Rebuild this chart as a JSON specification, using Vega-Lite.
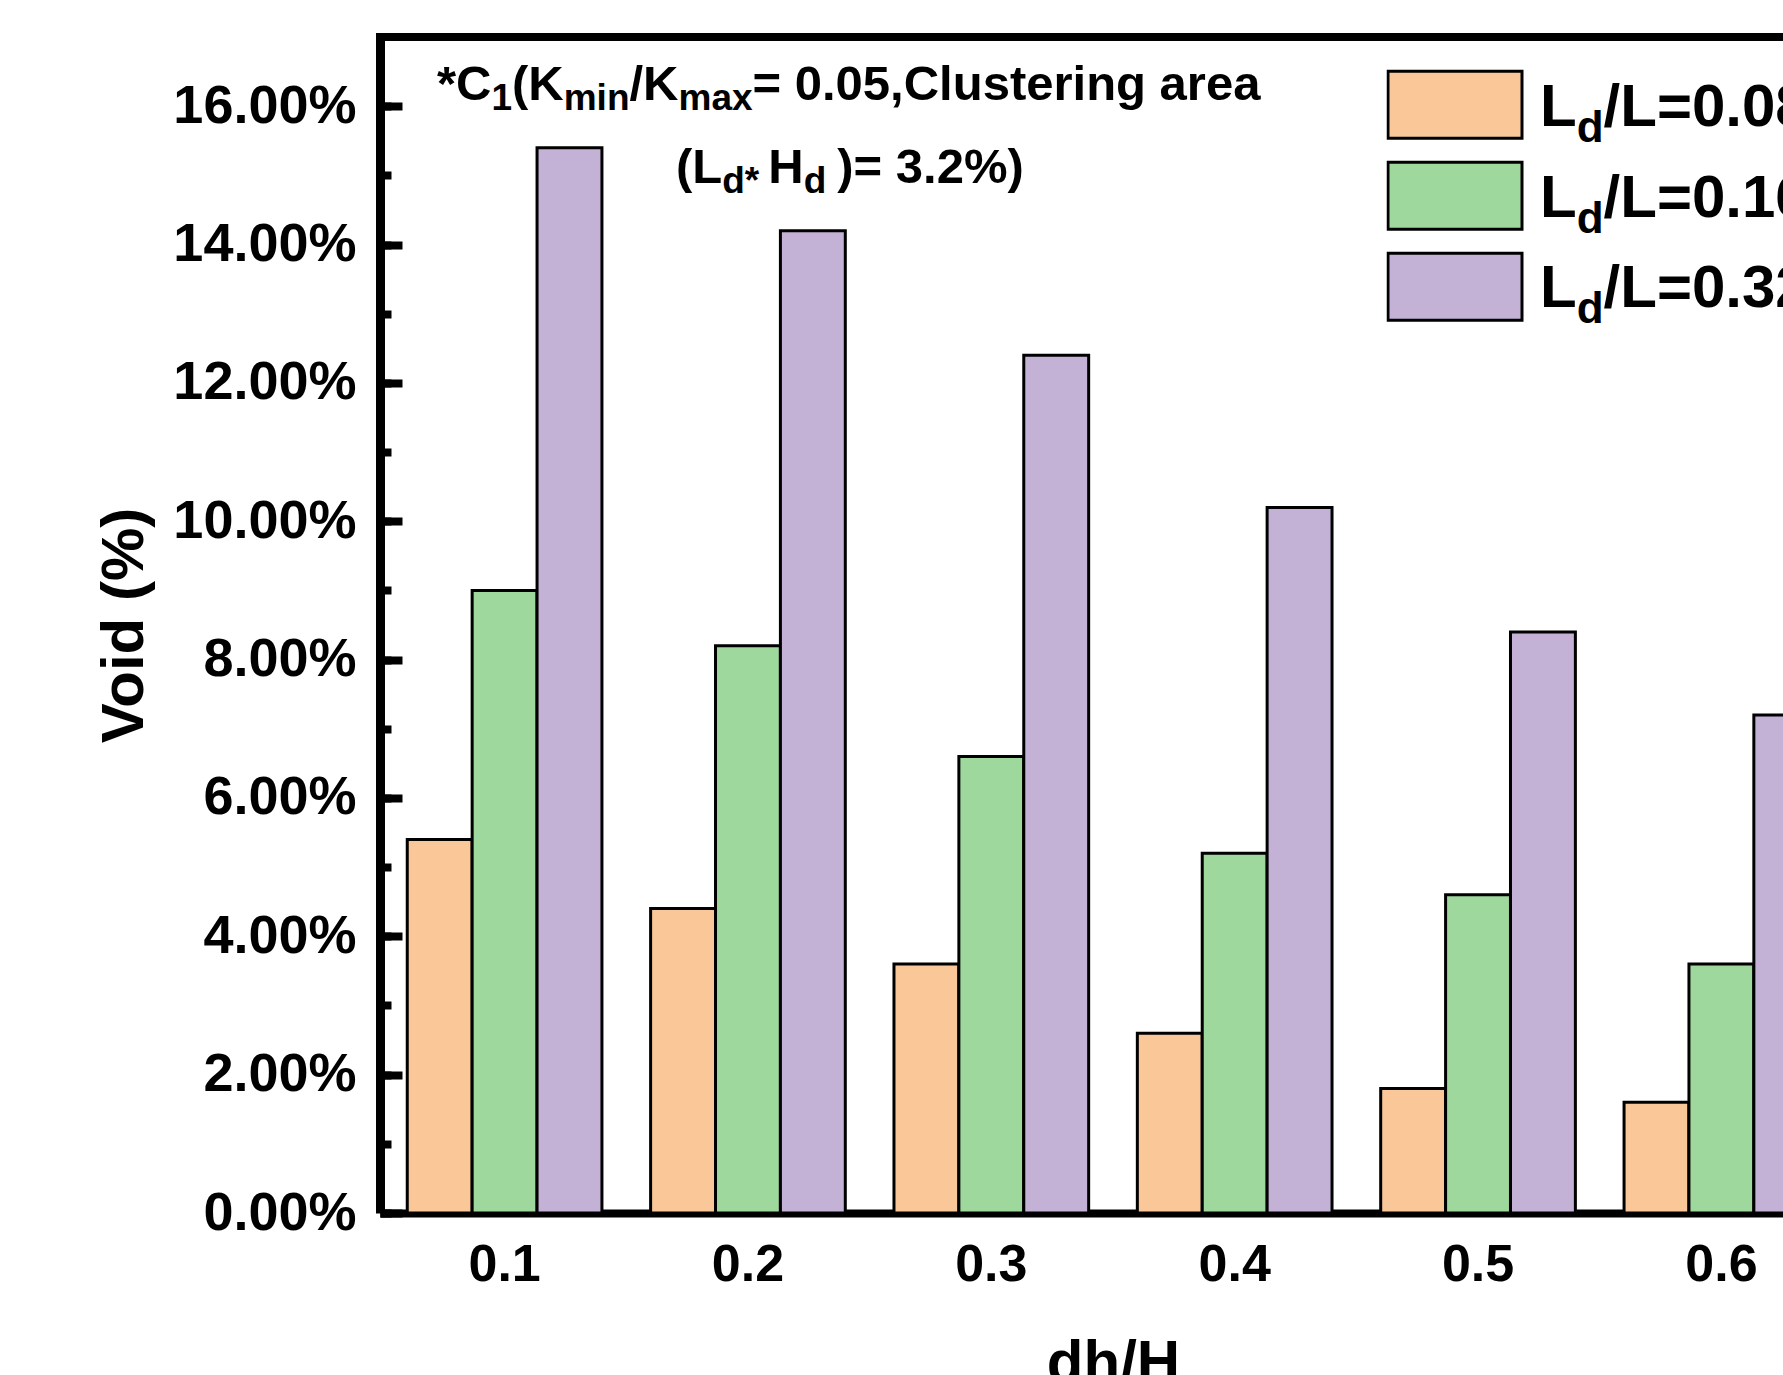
{
  "$schema": "https://vega.github.io/schema/vega-lite/v6.json",
  "width": 1403,
  "height": 1176,
  "autosize": {"type": "none"},
  "padding": {"left": 380, "top": 37, "right": 0, "bottom": 162},
  "background": "white",
  "config": {"view": {"stroke": null}, "font": "Liberation Sans"},
  "layer": [
    {
      "data": {"values": [
        {"dh": "0.1", "ratio": "0.08", "void": 0.054},
        {"dh": "0.1", "ratio": "0.16", "void": 0.090},
        {"dh": "0.1", "ratio": "0.32", "void": 0.154},
        {"dh": "0.2", "ratio": "0.08", "void": 0.044},
        {"dh": "0.2", "ratio": "0.16", "void": 0.082},
        {"dh": "0.2", "ratio": "0.32", "void": 0.142},
        {"dh": "0.3", "ratio": "0.08", "void": 0.036},
        {"dh": "0.3", "ratio": "0.16", "void": 0.066},
        {"dh": "0.3", "ratio": "0.32", "void": 0.124},
        {"dh": "0.4", "ratio": "0.08", "void": 0.026},
        {"dh": "0.4", "ratio": "0.16", "void": 0.052},
        {"dh": "0.4", "ratio": "0.32", "void": 0.102},
        {"dh": "0.5", "ratio": "0.08", "void": 0.018},
        {"dh": "0.5", "ratio": "0.16", "void": 0.046},
        {"dh": "0.5", "ratio": "0.32", "void": 0.084},
        {"dh": "0.6", "ratio": "0.08", "void": 0.016},
        {"dh": "0.6", "ratio": "0.16", "void": 0.036},
        {"dh": "0.6", "ratio": "0.32", "void": 0.072}
      ]},
      "mark": {"type": "bar", "stroke": "black", "strokeWidth": 3, "clip": true, "opacity": 1},
      "encoding": {
        "x": {
          "field": "dh", "type": "nominal",
          "scale": {"range": [0, 1466], "paddingInner": 0.2, "paddingOuter": 0.112},
          "axis": {
            "title": "dh/H", "labelAngle": 0, "ticks": false, "tickSize": 0,
            "labelFontSize": 52, "labelFontWeight": "bold", "labelColor": "black", "labelPadding": 26,
            "domainColor": "black", "domainWidth": 8,
            "titleFontSize": 60, "titleFontWeight": "bold", "titleColor": "black", "titlePadding": 44
          }
        },
        "xOffset": {"field": "ratio", "type": "nominal", "scale": {"paddingInner": 0, "paddingOuter": 0}},
        "y": {
          "field": "void", "type": "quantitative",
          "scale": {"domain": [0, 0.17], "nice": false},
          "axis": {
            "title": "Void (%)", "format": ".2%",
            "values": [0, 0.01, 0.02, 0.03, 0.04, 0.05, 0.06, 0.07, 0.08, 0.09, 0.1, 0.11, 0.12, 0.13, 0.14, 0.15, 0.16],
            "labelExpr": "round(datum.value*100) % 2 == 0 ? datum.label : ''",
            "labelOverlap": false, "labelLimit": 400,
            "labelFontSize": 54, "labelFontWeight": "bold", "labelColor": "black", "labelPadding": 35,
            "tickSize": -11, "tickWidth": 8, "tickColor": "black",
            "domainColor": "black", "domainWidth": 9,
            "grid": true, "gridDash": [22, 3000], "gridColor": "black", "gridWidth": 8,
            "gridOpacity": {"condition": {"test": "round(datum.value*100) % 2 == 0", "value": 1}, "value": 0},
            "titleFontSize": 60, "titleFontWeight": "bold", "titleColor": "black", "titlePadding": 25
          }
        },
        "color": {
          "field": "ratio", "type": "nominal",
          "scale": {"domain": ["0.08", "0.16", "0.32"], "range": ["#FAC898", "#9ED89C", "#C3B2D6"]},
          "legend": {
            "orient": "none", "legendX": 1006.5, "legendY": 22.5, "title": null,
            "symbolType": "M-1,-0.5H1V0.5H-1Z", "symbolSize": 17956,
            "symbolStrokeColor": "black", "symbolStrokeWidth": 3, "symbolOpacity": 1,
            "labelExpr": "''", "clipHeight": 90.7, "rowPadding": 0, "padding": 0
          }
        }
      }
    },
    {
      "data": {"values": [{}]},
      "mark": {"type": "rule", "stroke": "black", "strokeWidth": 8, "strokeCap": "square"},
      "encoding": {"y": {"datum": 0.17, "type": "quantitative"}}
    },
    {"data": {"values": [{}]}, "mark": {"type": "text", "align": "left", "baseline": "alphabetic", "fontSize": 49, "fontWeight": "bold", "fill": "black", "dx": -67.6},
     "encoding": {"x": {"datum": "0.1"}, "y": {"datum": 0.160893}, "text": {"value": "*C"}}},
    {"data": {"values": [{}]}, "mark": {"type": "text", "align": "left", "baseline": "alphabetic", "fontSize": 37, "fontWeight": "bold", "fill": "black", "dx": -13.2},
     "encoding": {"x": {"datum": "0.1"}, "y": {"datum": 0.159447}, "text": {"value": "1"}}},
    {"data": {"values": [{}]}, "mark": {"type": "text", "align": "left", "baseline": "alphabetic", "fontSize": 49, "fontWeight": "bold", "fill": "black", "dx": 7.4},
     "encoding": {"x": {"datum": "0.1"}, "y": {"datum": 0.160893}, "text": {"value": "(K"}}},
    {"data": {"values": [{}]}, "mark": {"type": "text", "align": "left", "baseline": "alphabetic", "fontSize": 37, "fontWeight": "bold", "fill": "black", "dx": 59.1},
     "encoding": {"x": {"datum": "0.1"}, "y": {"datum": 0.159447}, "text": {"value": "min"}}},
    {"data": {"values": [{}]}, "mark": {"type": "text", "align": "left", "baseline": "alphabetic", "fontSize": 49, "fontWeight": "bold", "fill": "black", "dx": 124.9},
     "encoding": {"x": {"datum": "0.1"}, "y": {"datum": 0.160893}, "text": {"value": "/K"}}},
    {"data": {"values": [{}]}, "mark": {"type": "text", "align": "left", "baseline": "alphabetic", "fontSize": 37, "fontWeight": "bold", "fill": "black", "dx": 173.9},
     "encoding": {"x": {"datum": "0.1"}, "y": {"datum": 0.159447}, "text": {"value": "max"}}},
    {"data": {"values": [{}]}, "mark": {"type": "text", "align": "left", "baseline": "alphabetic", "fontSize": 49, "fontWeight": "bold", "fill": "black", "dx": 247.9},
     "encoding": {"x": {"datum": "0.1"}, "y": {"datum": 0.160893}, "text": {"value": "= 0.05,Clustering area"}}},
    {"data": {"values": [{}]}, "mark": {"type": "text", "align": "left", "baseline": "alphabetic", "fontSize": 49, "fontWeight": "bold", "fill": "black", "dx": -72},
     "encoding": {"x": {"datum": "0.2"}, "y": {"datum": 0.148851}, "text": {"value": "(L"}}},
    {"data": {"values": [{}]}, "mark": {"type": "text", "align": "left", "baseline": "alphabetic", "fontSize": 37, "fontWeight": "bold", "fill": "black", "dx": -25.7},
     "encoding": {"x": {"datum": "0.2"}, "y": {"datum": 0.147521}, "text": {"value": "d*"}}},
    {"data": {"values": [{}]}, "mark": {"type": "text", "align": "left", "baseline": "alphabetic", "fontSize": 49, "fontWeight": "bold", "fill": "black", "dx": 20.3},
     "encoding": {"x": {"datum": "0.2"}, "y": {"datum": 0.148851}, "text": {"value": "H"}}},
    {"data": {"values": [{}]}, "mark": {"type": "text", "align": "left", "baseline": "alphabetic", "fontSize": 37, "fontWeight": "bold", "fill": "black", "dx": 55.7},
     "encoding": {"x": {"datum": "0.2"}, "y": {"datum": 0.147521}, "text": {"value": "d"}}},
    {"data": {"values": [{}]}, "mark": {"type": "text", "align": "left", "baseline": "alphabetic", "fontSize": 49, "fontWeight": "bold", "fill": "black", "dx": 89.3},
     "encoding": {"x": {"datum": "0.2"}, "y": {"datum": 0.148851}, "text": {"value": ")= 3.2%)"}}},
    {"data": {"values": [{}]}, "mark": {"type": "text", "align": "left", "baseline": "alphabetic", "fontSize": 60, "fontWeight": "bold", "fill": "black", "dx": -181.4},
     "encoding": {"x": {"datum": "0.6"}, "y": {"datum": 0.157134}, "text": {"value": "L"}}},
    {"data": {"values": [{}]}, "mark": {"type": "text", "align": "left", "baseline": "alphabetic", "fontSize": 44, "fontWeight": "bold", "fill": "black", "dx": -144.7},
     "encoding": {"x": {"datum": "0.6"}, "y": {"datum": 0.154821}, "text": {"value": "d"}}},
    {"data": {"values": [{}]}, "mark": {"type": "text", "align": "left", "baseline": "alphabetic", "fontSize": 60, "fontWeight": "bold", "fill": "black", "dx": -117.8},
     "encoding": {"x": {"datum": "0.6"}, "y": {"datum": 0.157134}, "text": {"value": "/L=0.08"}}},
    {"data": {"values": [{}]}, "mark": {"type": "text", "align": "left", "baseline": "alphabetic", "fontSize": 60, "fontWeight": "bold", "fill": "black", "dx": -181.4},
     "encoding": {"x": {"datum": "0.6"}, "y": {"datum": 0.144023}, "text": {"value": "L"}}},
    {"data": {"values": [{}]}, "mark": {"type": "text", "align": "left", "baseline": "alphabetic", "fontSize": 44, "fontWeight": "bold", "fill": "black", "dx": -144.7},
     "encoding": {"x": {"datum": "0.6"}, "y": {"datum": 0.141710}, "text": {"value": "d"}}},
    {"data": {"values": [{}]}, "mark": {"type": "text", "align": "left", "baseline": "alphabetic", "fontSize": 60, "fontWeight": "bold", "fill": "black", "dx": -117.8},
     "encoding": {"x": {"datum": "0.6"}, "y": {"datum": 0.144023}, "text": {"value": "/L=0.16"}}},
    {"data": {"values": [{}]}, "mark": {"type": "text", "align": "left", "baseline": "alphabetic", "fontSize": 60, "fontWeight": "bold", "fill": "black", "dx": -181.4},
     "encoding": {"x": {"datum": "0.6"}, "y": {"datum": 0.130912}, "text": {"value": "L"}}},
    {"data": {"values": [{}]}, "mark": {"type": "text", "align": "left", "baseline": "alphabetic", "fontSize": 44, "fontWeight": "bold", "fill": "black", "dx": -144.7},
     "encoding": {"x": {"datum": "0.6"}, "y": {"datum": 0.128599}, "text": {"value": "d"}}},
    {"data": {"values": [{}]}, "mark": {"type": "text", "align": "left", "baseline": "alphabetic", "fontSize": 60, "fontWeight": "bold", "fill": "black", "dx": -117.8},
     "encoding": {"x": {"datum": "0.6"}, "y": {"datum": 0.130912}, "text": {"value": "/L=0.32"}}}
  ]
}
